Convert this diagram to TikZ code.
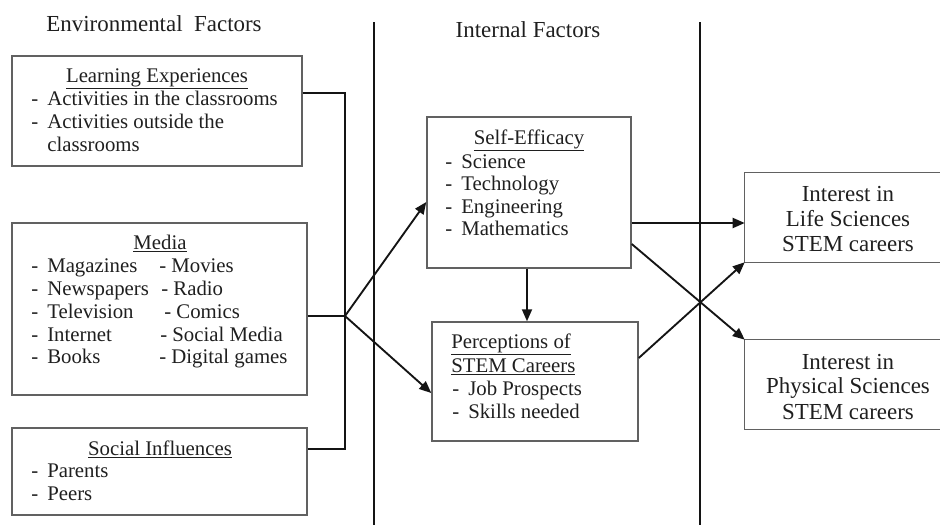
\documentclass[tikz,border=0pt]{standalone}
\usepackage{fontspec}
\setmainfont{Liberation Serif}
\usetikzlibrary{arrows.meta,fit}
\newcommand\bodyf{\fontsize{15.6}{18}\selectfont}
\newcommand\bigf{\fontsize{17.2}{20}\selectfont}
\newcommand\itm[1]{\makebox[12pt][l]{-}#1}
\begin{document}
\begin{tikzpicture}[x=0.75pt,y=-0.75pt,
  box/.style={draw=black!62, line width=1.1pt, inner sep=0pt},
  openbox/.style={draw=none, inner sep=0pt},
  boxline/.style={draw=black!62, line width=1.1pt},
  conn/.style={draw=black!92, line width=1.4pt},
  arr/.style={conn, -{Triangle[length=9pt,width=7.5pt]}},
  divider/.style={draw=black!92, line width=1.4pt},
  lt/.style={inner sep=0pt, anchor=base west, font=\bodyf, text=black!88},
  ct/.style={inner sep=0pt, anchor=base, font=\bodyf, text=black!88},
  bt/.style={inner sep=0pt, anchor=base, font=\bigf, text=black!88}]
\useasboundingbox (0,0) rectangle (940,525);

% headers
\node[bt] (hEnv) at (154,31) {Environmental\ \ Factors};
\node[bt] (hInt) at (528,37) {Internal Factors};

% dividers
\draw[divider] (374,22) -- (374,525);
\draw[divider] (700,22) -- (700,525);

% Learning experiences
\node[box, fit={(12,56) (302,166)}] (learn) {};
\node[ct] (learnT) at (157,82) {\underline{Learning Experiences}};
\node[lt] (learnA) at (31,105) {\itm{Activities in the classrooms}};
\node[lt] (learnB) at (31,128) {\itm{Activities outside the}};
\node[lt] (learnC) at (47,151) {classrooms};

% Media
\node[box, fit={(12,223) (307,395)}] (media) {};
\node[ct] (mediaT) at (160,249) {\underline{Media}};
\node[lt] (m1) at (31,272) {\itm{Magazines}};
\node[lt] (m2) at (31,295) {\itm{Newspapers}};
\node[lt] (m3) at (31,318) {\itm{Television}};
\node[lt] (m4) at (31,341) {\itm{Internet}};
\node[lt] (m5) at (31,363) {\itm{Books}};
\node[lt] (m6) at (159,272) {- Movies};
\node[lt] (m7) at (161,295) {- Radio};
\node[lt] (m8) at (164,318) {- Comics};
\node[lt] (m9) at (160,341) {- Social Media};
\node[lt] (m10) at (159,363) {- Digital games};

% Social influences
\node[box, fit={(12,428) (307,515)}] (social) {};
\node[ct] (socialT) at (160,455) {\underline{Social Influences}};
\node[lt] (s1) at (31,477) {\itm{Parents}};
\node[lt] (s2) at (31,500) {\itm{Peers}};

% Self-efficacy
\node[box, fit={(427,117) (631,268)}] (se) {};
\node[ct] (seT) at (529,144) {\underline{Self-Efficacy}};
\node[lt] (se1) at (445,168) {\itm{Science}};
\node[lt] (se2) at (445,190) {\itm{Technology}};
\node[lt] (se3) at (445,213) {\itm{Engineering}};
\node[lt] (se4) at (445,235) {\itm{Mathematics}};

% Perceptions
\node[box, fit={(432,322) (638,441)}] (perc) {};
\node[lt] (pT1) at (451,348) {\underline{Perceptions of}};
\node[lt] (pT2) at (451,372) {\underline{STEM Careers}};
\node[lt] (p1) at (452,395) {\itm{Job Prospects}};
\node[lt] (p2) at (452,418) {\itm{Skills needed}};

% Interest boxes (right side open at page edge)
\node[openbox, fit={(745,173) (940,262)}] (int1) {};
\draw[boxline] (int1.north east) -- (int1.north west) -- (int1.south west) -- (int1.south east);
\node[bt] (i1a) at (848,201) {Interest in};
\node[bt] (i1b) at (848,226) {Life Sciences};
\node[bt] (i1c) at (848,251) {STEM careers};

\node[openbox, fit={(745,340) (940,429)}] (int2) {};
\draw[boxline] (int2.north east) -- (int2.north west) -- (int2.south west) -- (int2.south east);
\node[bt] (i2a) at (848,369) {Interest in};
\node[bt] (i2b) at (848,393) {Physical Sciences};
\node[bt] (i2c) at (848,419) {STEM careers};

% helper coordinates
\coordinate (hub) at (345,316);
\coordinate (yL) at (0,93);
\coordinate (yS) at (0,449);
\coordinate (ySeIn) at (0,202);
\coordinate (yPcIn) at (0,393);
\coordinate (ySeOut1) at (0,223);
\coordinate (ySeOut2) at (0,244);
\coordinate (yPcOut) at (0,358);
\coordinate (xV) at (527,0);

% connectors
\draw[conn] (learn.east |- yL) -| (hub);
\draw[conn] (social.east |- yS) -| (hub);
\draw[conn] (media.east |- hub) -- (hub);
\draw[arr] (hub) -- (se.west |- ySeIn);
\draw[arr] (hub) -- (perc.west |- yPcIn);
\draw[arr] (se.south -| xV) -- (perc.north -| xV);
\draw[arr] (se.east |- ySeOut1) -- (int1.west |- ySeOut1);
\draw[arr] (se.east |- ySeOut2) -- (int2.north west);
\draw[arr] (perc.east |- yPcOut) -- (int1.south west);
\end{tikzpicture}
\end{document}
